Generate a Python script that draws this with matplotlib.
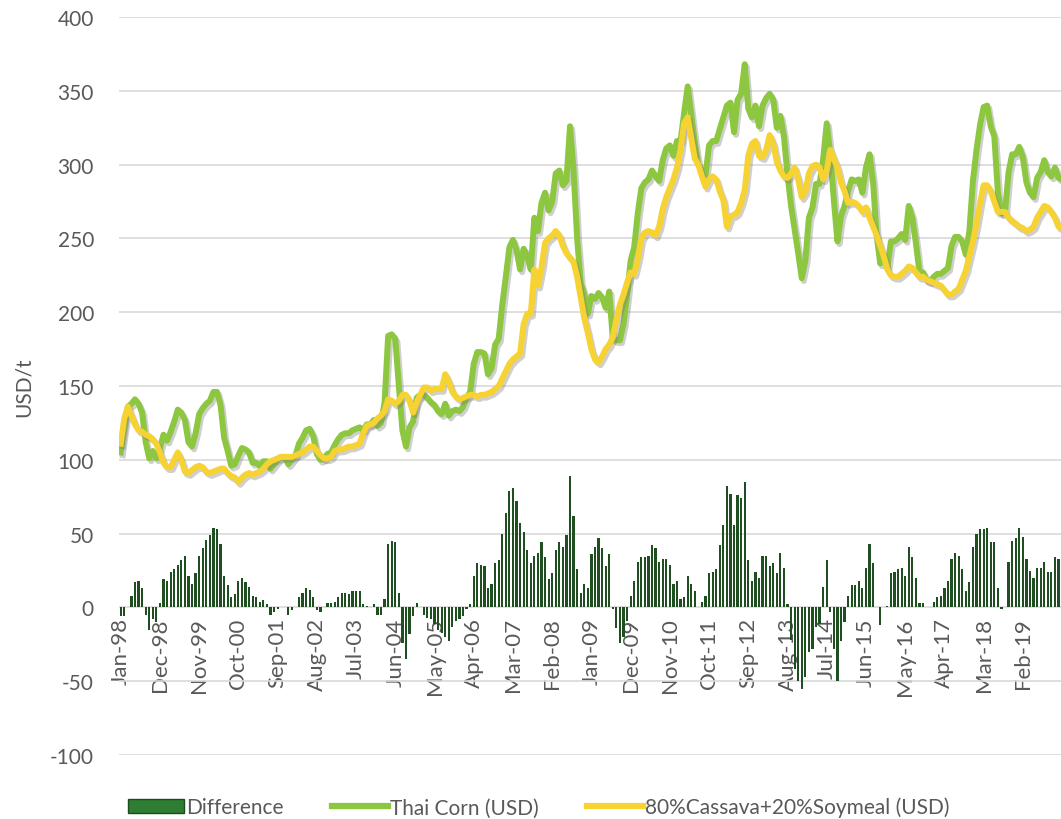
import numpy as np
import matplotlib
matplotlib.use("Agg")
import matplotlib.pyplot as plt
from matplotlib import patheffects as pe
from matplotlib.patches import Patch
from matplotlib.lines import Line2D

plt.rcParams['font.family'] = ['Lato', 'DejaVu Sans']
plt.rcParams['axes.unicode_minus'] = False

# monthly data, Jan-98 .. Jan-20
mix = [111, 128, 136, 130, 124, 120, 119, 117, 116, 114, 111, 105,   # 1998
       98, 95, 95, 100, 105, 100, 92, 91, 93, 95, 96, 95,             # 1999
       92, 91, 92, 93, 94, 94, 91, 89, 88, 85, 88, 90,                # 2000
       91, 90, 91, 92, 94, 97, 99, 100, 101, 102, 102, 102,           # 2001
       102, 103, 104, 105, 107, 109, 109, 106, 103, 101, 101, 102,    # 2002
       106, 107, 107, 108, 109, 109, 110, 111, 118, 123, 124, 125,    # 2003
       128, 130, 133, 141, 140, 138, 140, 144, 144, 140, 132, 139,    # 2004
       144, 149, 149, 147, 148, 148, 148, 158, 153, 146, 143, 141,    # 2005
       142, 143, 144, 144, 143, 144, 144, 145, 146, 148, 150, 155,    # 2006
       160, 165, 168, 170, 172, 192, 199, 199, 229, 218, 230, 247,    # 2007
       250, 252, 255, 252, 245, 240, 237, 234, 224, 210, 196, 186,    # 2008
       175, 168, 166, 170, 175, 178, 183, 195, 205, 212, 220, 227,    # 2009
       226, 236, 250, 254, 255, 254, 252, 258, 270, 278, 284, 290,    # 2010
       298, 310, 328, 332, 318, 304, 300, 292, 285, 290, 292, 290,    # 2011
       282, 276, 258, 265, 266, 268, 274, 283, 306, 314, 316, 306,    # 2012
       305, 310, 320, 314, 302, 296, 292, 291, 294, 298, 290, 278,    # 2013
       282, 294, 299, 300, 298, 290, 296, 310, 304, 298, 288, 282,    # 2014
       274, 275, 274, 272, 268, 271, 264, 258, 252, 245, 238, 229,    # 2015
       225, 224, 224, 226, 228, 231, 230, 227, 224, 224, 222, 221,    # 2016
       220, 219, 218, 215, 212, 212, 214, 216, 222, 228, 238, 248,    # 2017
       260, 274, 286, 286, 282, 275, 268, 268, 268, 264, 262, 260,    # 2018
       258, 257, 255, 256, 258, 264, 268, 272, 271, 268, 264, 258,    # 2019
       257]                                                           # 2020

diff = [-6, -6, 0, 8, 17, 18, 13, -5, -15, -8, -10, 3,
        19, 18, 24, 26, 29, 32, 35, 21, 16, 23, 35, 40,
        46, 49, 54, 53, 43, 21, 15, 7, 9, 18, 20, 17,
        14, 8, 7, 4, 5, 2, -5, -3, -1, 0, 0, -5,
        -2, 0, 7, 10, 13, 12, 7, -2, -3, 0, 3, 3,
        4, 7, 10, 10, 9, 11, 11, 11, 2, 1, 0, 2,
        -5, -5, 6, 43, 45, 44, 10, -24, -35, -18, -6, 3,
        0, -5, -7, -8, -11, -15, -17, -20, -23, -13, -9, -8,
        -6, -1, 2, 21, 30, 29, 28, 13, 16, 30, 32, 50,
        64, 79, 81, 72, 57, 51, 39, 30, 35, 37, 44, 34,
        19, 23, 39, 44, 41, 49, 89, 62, 26, 10, 16, 13,
        36, 41, 47, 40, 28, 36, -1, -14, -24, -20, -9, 8,
        18, 31, 34, 34, 35, 42, 40, 31, 33, 33, 29, 16,
        18, 6, 7, 21, 16, 11, 0, 4, 8, 23, 24, 26,
        42, 56, 82, 77, 56, 76, 74, 85, 32, 18, 24, 20,
        35, 35, 28, 30, 23, 37, 27, 2, -22, -42, -50, -55,
        -47, -30, -28, -13, -11, 14, 32, -3, -28, -50, -23, -10,
        8, 15, 15, 18, 13, 27, 43, 30, 0, -12, 0, 1,
        23, 24, 26, 27, 21, 41, 34, 20, 3, 3, 0, 0,
        4, 7, 8, 13, 18, 33, 37, 35, 26, 11, 17, 41,
        50, 53, 53, 54, 44, 44, 13, -1, 0, 31, 45, 47,
        54, 48, 33, 25, 20, 27, 27, 31, 24, 24, 34, 33,
        33]

# Thai corn = blend price + difference
corn = [m + d for m, d in zip(mix, diff)]

tick_labels = ['Jan-98', 'Dec-98', 'Nov-99', 'Oct-00', 'Sep-01', 'Aug-02',
               'Jul-03', 'Jun-04', 'May-05', 'Apr-06', 'Mar-07', 'Feb-08',
               'Jan-09', 'Dec-09', 'Nov-10', 'Oct-11', 'Sep-12', 'Aug-13',
               'Jul-14', 'Jun-15', 'May-16', 'Apr-17', 'Mar-18', 'Feb-19']

x = np.arange(len(mix))
grey = '#595959'
bar_col = '#1f4f20'
corn_col = '#8dc63f'
mix_col = '#f6d232'

fig = plt.figure(figsize=(10.61, 8.2), dpi=100)
ax = fig.add_axes([0.1121, 0.078, 0.8879, 0.900])

ax.bar(x, diff, width=0.62, color=bar_col, zorder=2)

shadow = [pe.SimpleLineShadow(offset=(1.5, -2), shadow_color='#777777', alpha=0.35),
          pe.Normal()]
ax.plot(x, corn, color=corn_col, lw=4.3, solid_joinstyle='round',
        path_effects=shadow, zorder=3)
ax.plot(x, mix, color=mix_col, lw=4.3, solid_joinstyle='round',
        path_effects=shadow, zorder=4)

ax.set_ylim(-100, 400)
ax.set_xlim(-0.5, 263.7)
ax.set_yticks(np.arange(-100, 401, 50))
ax.yaxis.grid(True, color='#d9d9d9', lw=1.2)
ax.set_axisbelow(True)
for s in ax.spines.values():
    s.set_visible(False)
ax.spines['bottom'].set_position(('data', 0))

ax.set_xticks(np.arange(0, 11 * len(tick_labels), 11))
ax.set_xticklabels(tick_labels, rotation=90, color=grey, fontsize=16)
ax.tick_params(axis='x', length=0, pad=7)
ax.tick_params(axis='y', length=0, pad=18, labelcolor=grey, labelsize=15)
ax.set_ylabel('USD/t', color=grey, fontsize=15, labelpad=12)

handles = [Patch(facecolor='#2e7d32', edgecolor='#1b4d1b'),
           Line2D([], [], color=corn_col, lw=4.5),
           Line2D([], [], color=mix_col, lw=4.5)]
labels = ['Difference', 'Thai Corn (USD)', '80%Cassava+20%Soymeal (USD)']
fig.legend(handles, labels, loc='lower center', bbox_to_anchor=(0.508, -0.021),
           ncol=3, frameon=False, fontsize=15, labelcolor=grey,
           handlelength=2.7, handletextpad=0.1, columnspacing=2.3)

fig.savefig('out.png', dpi=100)
